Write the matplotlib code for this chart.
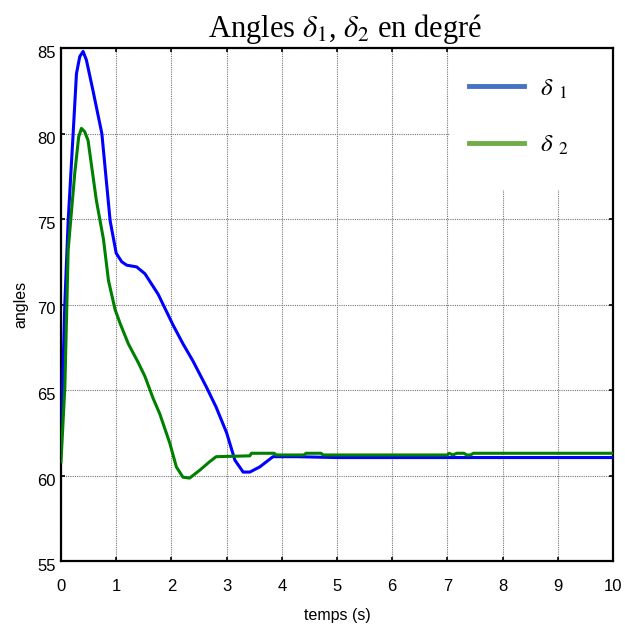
import matplotlib
matplotlib.use('Agg')
import matplotlib.pyplot as plt
import matplotlib.transforms as mtransforms
from matplotlib.lines import Line2D
from matplotlib.patches import Rectangle

# courbes
t1 = [0, 0.03, 0.07, 0.13, 0.22, 0.28, 0.34, 0.40, 0.46, 0.52, 0.58, 0.74, 0.89, 1.0, 1.10, 1.19,
      1.37, 1.52, 1.76, 2.03, 2.21, 2.39, 2.63, 2.81, 3.00, 3.15, 3.30, 3.42, 3.60, 3.84, 4.26,
      5, 6, 7, 8, 9, 10]
d1 = [61.3, 65.5, 70.1, 74.9, 80.0, 83.5, 84.5, 84.8, 84.3, 83.4, 82.5, 80.0, 74.9, 73.0, 72.5, 72.3,
      72.2, 71.8, 70.6, 68.8, 67.7, 66.7, 65.2, 64.0, 62.5, 60.9, 60.2, 60.2, 60.5, 61.1, 61.1,
      61.05, 61.05, 61.05, 61.05, 61.05, 61.05]

t2 = [0, 0.07, 0.13, 0.25, 0.32, 0.37, 0.43, 0.49, 0.64, 0.77, 0.86, 0.98, 1.07, 1.22, 1.40, 1.52,
      1.67, 1.79, 1.97, 2.09, 2.21, 2.33, 2.51, 2.69, 2.81, 3.42, 3.45, 3.86, 3.90, 4.40, 4.44,
      4.71, 4.75, 7.0, 7.03, 7.10, 7.17, 7.30, 7.35, 7.42, 7.47, 10]
d2 = [60.8, 65.2, 73.2, 77.7, 79.8, 80.3, 80.1, 79.6, 76.1, 73.8, 71.4, 69.7, 68.9, 67.7, 66.6, 65.8,
      64.5, 63.6, 61.9, 60.5, 59.9, 59.85, 60.3, 60.8, 61.1, 61.15, 61.3, 61.3, 61.2, 61.2, 61.3,
      61.3, 61.2, 61.2, 61.3, 61.2, 61.3, 61.3, 61.2, 61.2, 61.3, 61.3]

xticks = list(range(0, 11))
yticks = [55, 60, 65, 70, 75, 80, 85]
noms = [r'$\delta$ $_1$', r'$\delta$ $_2$']

plt.rcParams['font.family'] = ['Liberation Sans', 'DejaVu Sans']
plt.rcParams['mathtext.fontset'] = 'stix'

fig = plt.figure(figsize=(6.25, 6.27), dpi=100)
ax = fig.add_axes([61/625, 1-561/627, (613-61)/625, (561-48)/627])

ax.plot(t1, d1, color='#0000ff', lw=2.2, zorder=3)
ax.plot(t2, d2, color='#008000', lw=2.2, zorder=3)

ax.set_xlim(0, 10)
ax.set_ylim(55, 85)
ax.set_xticks(xticks)
ax.set_yticks(yticks)
ax.grid(True, color='#777777', lw=0.8, ls=(0, (1, 1)))
ax.tick_params(direction='in', length=3, top=True, right=True, labelsize=12, width=1.2)
ax.tick_params(axis='x', pad=13)
ax.tick_params(axis='y', pad=4)
for s in ax.spines.values():
    s.set_linewidth(1.6)

# les etiquettes en y sont un peu plus bas que les traits
dy = mtransforms.ScaledTranslation(0, -0.04, fig.dpi_scale_trans)
for lab in ax.get_yticklabels():
    lab.set_transform(lab.get_transform() + dy)

ax.set_xlabel('temps (s)', fontsize=11.5, labelpad=10)
ax.set_ylabel('angles', fontsize=11.5, labelpad=6)
ax.set_title(r'Angles $\delta_1$, $\delta_2$ en degré', family='Liberation Serif',
             fontsize=22, pad=8, x=0.515)

# fond blanc de la legende
ax.add_patch(Rectangle((0.705, 0.723), 0.295, 0.277, transform=ax.transAxes,
                       facecolor='white', edgecolor='none', zorder=2.5))
h = [Line2D([], [], color='#4472c4', lw=3.5), Line2D([], [], color='#70ad47', lw=3.5)]
leg = ax.legend(h, noms, loc='upper left', bbox_to_anchor=(0.739, 0.945), fontsize=18,
                frameon=False, handlelength=2.2, handletextpad=0.65, labelspacing=1.3,
                borderpad=0, borderaxespad=0)
leg.set_zorder(5)

fig.savefig('out.png', dpi=100)
